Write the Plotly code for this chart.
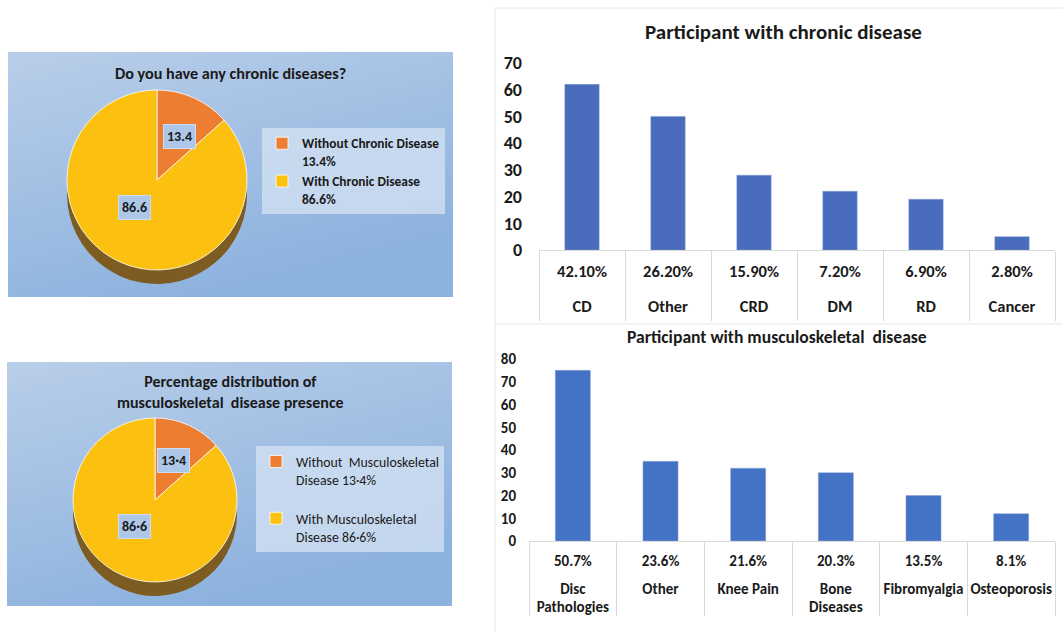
import base64
import plotly.graph_objects as go

W, H = 1062, 631
FONT = "Carlito, Lato, 'Noto Sans', sans-serif"

# ---------------- data ----------------
pie1_title = "Do you have any chronic diseases?"
pie1_labels = ["Without Chronic Disease", "With Chronic Disease"]
pie1_values = [13.4, 86.6]

pie2_title = "Percentage distribution of<br>musculoskeletal  disease presence"
pie2_labels = ["Without  Musculoskeletal", "With Musculoskeletal"]
pie2_values = [13.4, 86.6]

pie_colors = ["#ED7D31", "#FCC010"]
side_color = "#7d5c22"

bar1_title = "Participant with chronic disease"
bar1_cats = ["CD", "Other", "CRD", "DM", "RD", "Cancer"]
bar1_vals = [62, 50, 28, 22, 19, 5]
bar1_pcts = ["42.10%", "26.20%", "15.90%", "7.20%", "6.90%", "2.80%"]

bar2_title = "Participant with musculoskeletal  disease"
bar2_cats = ["Disc<br>Pathologies", "Other", "Knee Pain", "Bone<br>Diseases", "Fibromyalgia", "Osteoporosis"]
bar2_vals = [75, 35, 32, 30, 20, 12]
bar2_pcts = ["50.7%", "23.6%", "21.6%", "20.3%", "13.5%", "8.1%"]


def px(x):
    return x / W


def py(y):
    return 1 - y / H


def fmt_dot(v):
    return f"{v}".replace(".", "·")


fig = go.Figure()

# ---------------- pies ----------------
def add_pie(labels, values, cx, cy, r, legend, depth):
    dom_x = [px(cx - r), px(cx + r)]
    # side (3D edge) drawn first, offset downwards
    fig.add_trace(go.Pie(
        labels=labels, values=values, sort=False, direction="clockwise",
        domain=dict(x=dom_x, y=[py(cy + r + depth), py(cy - r + depth)]),
        marker=dict(colors=[side_color, side_color], line=dict(width=0)),
        textinfo="none", hoverinfo="skip", showlegend=False,
    ))
    fig.add_trace(go.Pie(
        labels=labels, values=values, sort=False, direction="clockwise",
        domain=dict(x=dom_x, y=[py(cy + r), py(cy - r)]),
        marker=dict(colors=pie_colors, line=dict(width=1, color="rgba(255,255,255,0.8)")),
        textinfo="none", legend=legend,
    ))


pie1_legend = [f"{l}<br>{v}%" for l, v in zip(pie1_labels, pie1_values)]
pie2_legend = [f"{l}<br>Disease {fmt_dot(v)}%" for l, v in zip(pie2_labels, pie2_values)]
pie2_legend[0] += "<br> "

add_pie(pie1_legend, pie1_values, 157, 180, 90, "legend", 14)
add_pie(pie2_legend, pie2_values, 155, 500, 82, "legend2", 14)

# ---------------- bars ----------------
def ticktext(pcts, cats, base_breaks, size):
    out = []
    for p, c in zip(pcts, cats):
        lines = c.split("<br>")
        s = f'<span style="font-size:{size}px"><b>{p}</b></span>' + "<br>" * base_breaks
        s += ("<br>" * 2).join(f'<span style="font-size:{size}px"><b>{ln}</b></span>' for ln in lines)
        out.append(s)
    return out


fig.add_trace(go.Bar(x=bar1_cats, y=bar1_vals, xaxis="x", yaxis="y",
                     marker=dict(color="#4a6cbc", line=dict(width=0.5, color="#8aa3d6")),
                     showlegend=False))
fig.add_trace(go.Bar(x=bar2_cats, y=bar2_vals, xaxis="x2", yaxis="y2",
                     marker=dict(color="#4472C4", line=dict(width=0.5, color="#8aa3d6")),
                     showlegend=False))

grid = "#d9d9d9"
fig.update_layout(
    xaxis=dict(domain=[px(539), px(1055)], anchor="y", type="category",
               tickmode="array", tickvals=bar1_cats,
               ticktext=ticktext(bar1_pcts, bar1_cats, 3, 16.5),
               tickfont=dict(family=FONT, size=9, color="#1a1a1a"), tickangle=0,
               ticks="outside", tickson="boundaries", ticklen=70, tickcolor=grid, tickwidth=1,
               showline=True, linecolor=grid, linewidth=1, showgrid=False,
               ticklabelstandoff=15, automargin=False, fixedrange=True),
    yaxis=dict(domain=[py(250), py(63)], anchor="x", range=[0, 70], dtick=10,
               showgrid=False, zeroline=False, showline=False, ticks="",
               tickfont=dict(family=FONT, size=18, color="#1a1a1a", weight="bold"),
               ticklabelstandoff=16, automargin=False, fixedrange=True),
    xaxis2=dict(domain=[px(529), px(1055)], anchor="y2", type="category",
                tickmode="array", tickvals=bar2_cats,
                ticktext=ticktext(bar2_pcts, bar2_cats, 3, 15),
                tickfont=dict(family=FONT, size=7.2, color="#1a1a1a"), tickangle=0,
                ticks="outside", tickson="boundaries", ticklen=74, tickcolor=grid, tickwidth=1,
                showline=True, linecolor=grid, linewidth=1, showgrid=False,
                ticklabelstandoff=15, automargin=False, fixedrange=True),
    yaxis2=dict(domain=[py(541), py(359)], anchor="x2", range=[0, 80], dtick=10,
                showgrid=False, zeroline=False, showline=False, ticks="",
                tickfont=dict(family=FONT, size=15, color="#1a1a1a", weight="bold"),
                ticklabelstandoff=12, automargin=False, fixedrange=True),
    bargap=0.6,
)

# ---------------- backgrounds ----------------
svg = ("<svg xmlns='http://www.w3.org/2000/svg' width='100' height='100' preserveAspectRatio='none'>"
       "<defs><linearGradient id='g' x1='0' y1='0' x2='0.45' y2='1'>"
       "<stop offset='0' stop-color='#b9cee9'/><stop offset='1' stop-color='#8cb2de'/>"
       "</linearGradient></defs><rect width='100' height='100' fill='url(#g)'/></svg>")
src = "data:image/svg+xml;base64," + base64.b64encode(svg.encode()).decode()

images = []
for (x0, y0, x1, y1) in [(8, 52, 453, 297), (7, 362, 452, 606)]:
    images.append(dict(source=src, xref="paper", yref="paper", x=px(x0), y=py(y0),
                       sizex=px(x1) - px(x0), sizey=py(y0) - py(y1),
                       xanchor="left", yanchor="top", sizing="stretch", layer="below"))

shapes = [
    dict(type="line", xref="paper", yref="paper", x0=px(495), x1=px(1062), y0=py(8), y1=py(8),
         line=dict(color="#e6e6e6", width=1)),
    dict(type="line", xref="paper", yref="paper", x0=px(495), x1=px(495), y0=py(8), y1=py(631),
         line=dict(color="#e6e6e6", width=1)),
    dict(type="line", xref="paper", yref="paper", x0=px(495), x1=px(1062), y0=py(324), y1=py(324),
         line=dict(color="#e6e6e6", width=1)),
]

# ---------------- text ----------------
def ann(text, x, y, size, bold=True, **kw):
    t = f"<b>{text}</b>" if bold else text
    d = dict(text=t, x=px(x), y=py(y), xref="paper", yref="paper", showarrow=False,
             xanchor="center", yanchor="middle", font=dict(family=FONT, size=size, color="#1a1a1a"))
    d.update(kw)
    return d


box = dict(bgcolor="#adc7e8", bordercolor="#cfdcef", borderwidth=1, borderpad=3)
annotations = [
    ann(pie1_title, 230, 73, 16.2),
    ann(pie2_title, 230, 392, 16),
    ann(bar1_title, 783, 32, 21),
    ann(bar2_title, 777, 337, 17.6),
    ann(f"{pie1_values[0]}", 179, 136, 14, **box),
    ann(f"{pie1_values[1]}", 134, 208, 14, **box),
    ann(fmt_dot(pie2_values[0]), 173, 460, 14, **box),
    ann(fmt_dot(pie2_values[1]), 134, 526, 14, **box),
]

fig.update_layout(
    width=W, height=H, margin=dict(l=0, r=0, t=0, b=0, autoexpand=False),
    paper_bgcolor="white", plot_bgcolor="rgba(0,0,0,0)",
    images=images, shapes=shapes, annotations=annotations,
    legend=dict(x=px(262), y=py(128), xanchor="left", yanchor="top", valign="top",
                bgcolor="rgba(214,227,243,0.75)", itemwidth=30,
                font=dict(family=FONT, size=13.4, color="#1a1a1a", weight="bold")),
    legend2=dict(x=px(256), y=py(446), xanchor="left", yanchor="top", valign="top",
                 bgcolor="rgba(214,227,243,0.75)", itemwidth=30,
                 font=dict(family=FONT, size=13.8, color="#1a1a1a")),
)

fig.write_html("out.html")
